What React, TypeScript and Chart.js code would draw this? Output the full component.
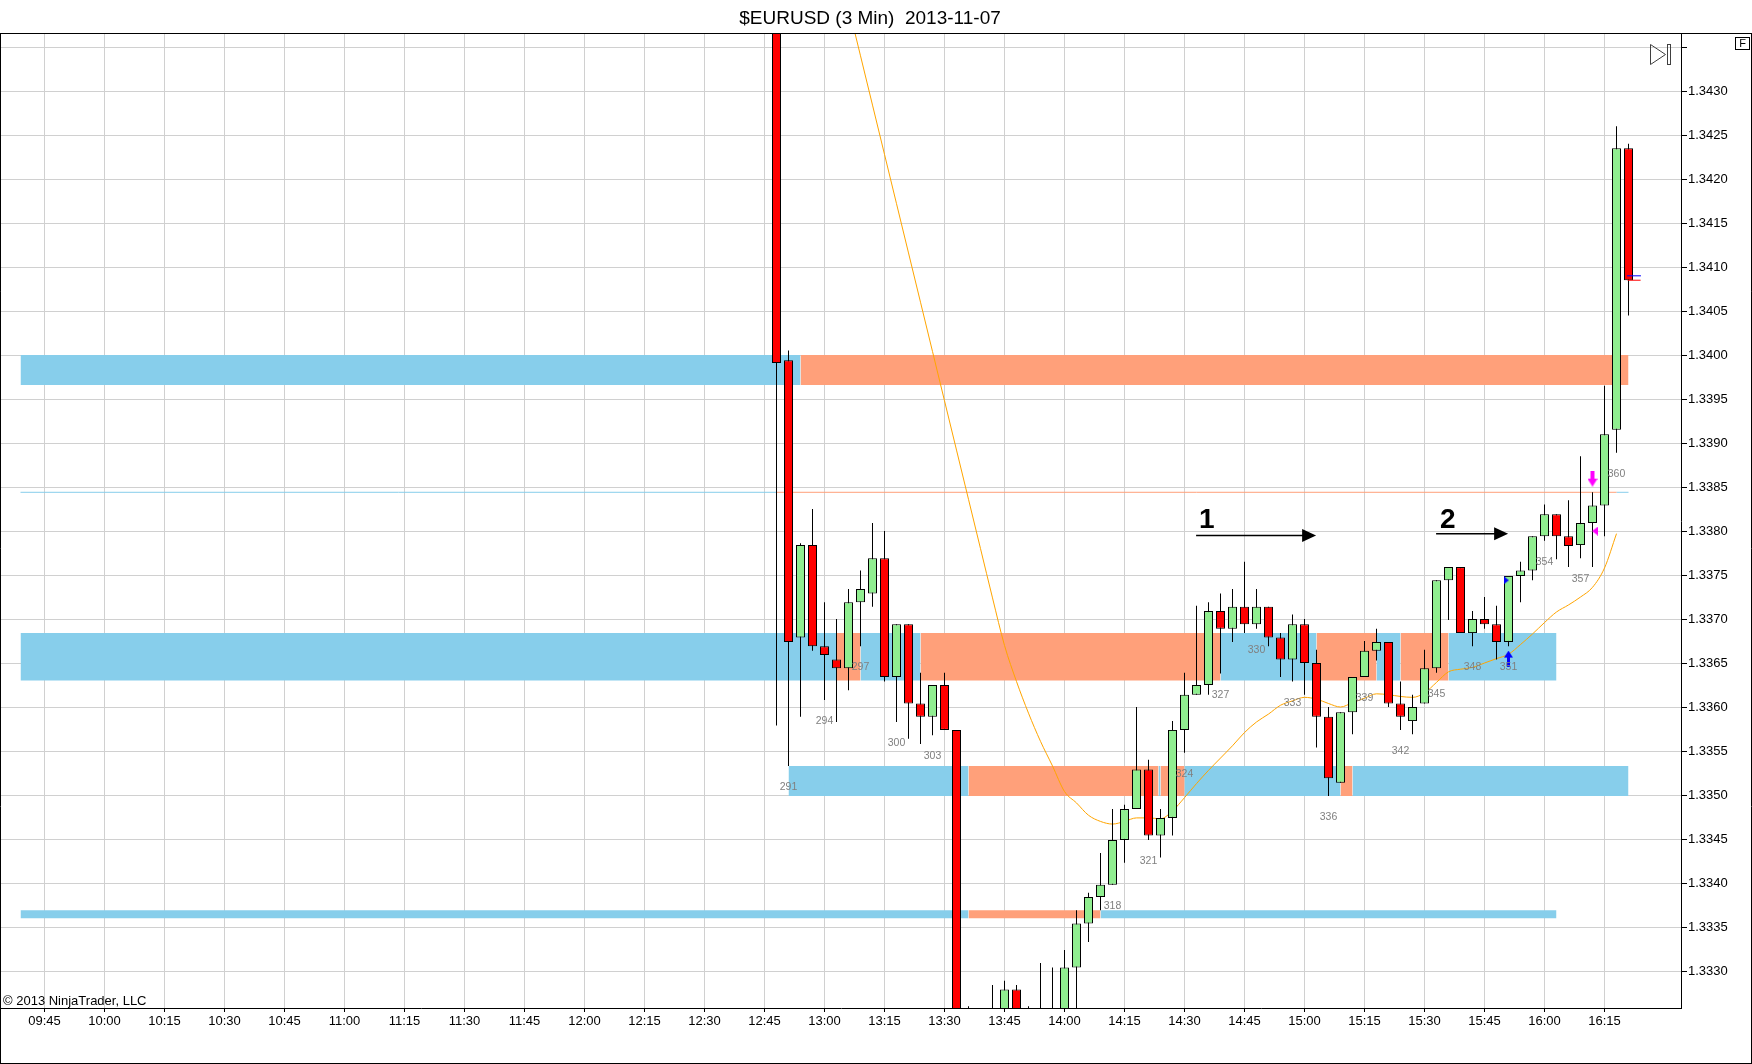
import React, { useEffect, useRef } from 'react';
import { Chart, registerables } from 'chart.js';

Chart.register(...registerables);

const FONT = '"Liberation Sans", Arial, sans-serif';
Chart.defaults.font.family = FONT;

const TITLE = '$EURUSD (3 Min)  2013-11-07';
const COPYRIGHT = '\u00A9 2013 NinjaTrader, LLC';

// ---------- 3-minute bars ----------
const BAR_TIMES = [
  '12:48','12:51','12:54','12:57',
  '13:00','13:03','13:06','13:09','13:12','13:15','13:18','13:21','13:24','13:27',
  '13:30','13:33','13:36','13:39','13:42','13:45','13:48','13:51','13:54','13:57',
  '14:00','14:03','14:06','14:09','14:12','14:15','14:18','14:21','14:24','14:27',
  '14:30','14:33','14:36','14:39','14:42','14:45','14:48','14:51','14:54','14:57',
  '15:00','15:03','15:06','15:09','15:12','15:15','15:18','15:21','15:24','15:27',
  '15:30','15:33','15:36','15:39','15:42','15:45','15:48','15:51','15:54','15:57',
  '16:00','16:03','16:06','16:09','16:12','16:15','16:18','16:21',
];

const OPEN = [
  1.34500,1.33994,1.33679,1.33784,1.33669,1.33654,1.33644,1.33719,1.33729,1.33769,
  1.33634,1.33694,1.33604,1.33589,1.33625,1.33574,1.33170,1.33220,1.33180,1.33240,
  1.33279,1.33220,1.33210,1.33240,1.33230,1.33304,1.33354,1.33384,1.33398,1.33449,
  1.33484,1.33529,1.33454,1.33474,1.33574,1.33614,1.33625,1.33709,1.33689,1.33714,
  1.33694,1.33714,1.33679,1.33654,1.33694,1.33650,1.33589,1.33514,1.33594,1.33634,
  1.33664,1.33674,1.33604,1.33584,1.33604,1.33644,1.33744,1.33759,1.33684,1.33700,
  1.33694,1.33674,1.33749,1.33755,1.33794,1.33819,1.33794,1.33784,1.33809,1.33829,
  1.33915,1.34235,
];

const HIGH = [
  1.34520,1.34005,1.33786,1.33825,1.33719,1.33700,1.33734,1.33755,1.33809,1.33800,
  1.33694,1.33694,1.33639,1.33625,1.33639,1.33574,1.33260,1.33250,1.33284,1.33289,
  1.33284,1.33260,1.33309,1.33304,1.33324,1.33369,1.33389,1.33434,1.33484,1.33489,
  1.33600,1.33540,1.33484,1.33584,1.33639,1.33715,1.33719,1.33729,1.33734,1.33765,
  1.33734,1.33714,1.33684,1.33705,1.33700,1.33665,1.33600,1.33594,1.33634,1.33675,
  1.33689,1.33674,1.33629,1.33614,1.33665,1.33744,1.33759,1.33759,1.33709,1.33725,
  1.33715,1.33749,1.33765,1.33794,1.33830,1.33819,1.33835,1.33885,1.33844,1.33965,
  1.34260,1.34240,
];

const LOW = [
  1.33579,1.33533,1.33589,1.33664,1.33608,1.33583,1.33619,1.33669,1.33714,1.33629,
  1.33583,1.33564,1.33558,1.33568,1.33574,1.33150,1.33120,1.33160,1.33170,1.33210,
  1.33200,1.33180,1.33190,1.33200,1.33210,1.33250,1.33333,1.33369,1.33398,1.33423,
  1.33484,1.33449,1.33429,1.33454,1.33548,1.33614,1.33614,1.33638,1.33674,1.33684,
  1.33689,1.33669,1.33634,1.33629,1.33614,1.33554,1.33499,1.33514,1.33569,1.33634,
  1.33653,1.33600,1.33574,1.33569,1.33604,1.33639,1.33699,1.33684,1.33669,1.33689,
  1.33654,1.33669,1.33719,1.33744,1.33789,1.33768,1.33759,1.33769,1.33759,1.33794,
  1.33889,1.34045,
];

const CLOSE = [
  1.33991,1.33674,1.33784,1.33669,1.33659,1.33644,1.33719,1.33734,1.33769,1.33634,
  1.33694,1.33604,1.33589,1.33625,1.33574,1.33170,1.33220,1.33180,1.33240,1.33279,
  1.33220,1.33210,1.33240,1.33230,1.33304,1.33354,1.33384,1.33398,1.33449,1.33484,
  1.33529,1.33454,1.33474,1.33574,1.33614,1.33625,1.33709,1.33689,1.33714,1.33694,
  1.33714,1.33679,1.33654,1.33694,1.33650,1.33589,1.33519,1.33594,1.33634,1.33664,
  1.33674,1.33604,1.33589,1.33600,1.33644,1.33744,1.33759,1.33684,1.33700,1.33694,
  1.33674,1.33749,1.33755,1.33794,1.33819,1.33794,1.33783,1.33809,1.33829,1.33910,
  1.34235,1.34085,
];

// moving average (orange line)
const SMA = [
  1.34732,1.34676,1.34620,1.34564,1.34508,1.34452,1.34396,1.34340,1.34284,1.34228,
  1.34172,1.34116,1.34060,1.34004,1.33948,1.33892,1.33836,1.33780,1.33724,1.33670,
  1.33629,1.33593,1.33561,1.33533,1.33504,1.33491,1.33477,1.33470,1.33467,1.33470,
  1.33474,1.33474,1.33473,1.33482,1.33497,1.33513,1.33528,1.33542,1.33556,1.33571,
  1.33583,1.33592,1.33602,1.33607,1.33611,1.33609,1.33604,1.33600,1.33605,1.33610,
  1.33615,1.33614,1.33612,1.33611,1.33616,1.33628,1.33640,1.33643,1.33645,1.33650,
  1.33655,1.33660,1.33671,1.33683,1.33696,1.33708,1.33716,1.33725,1.33736,1.33758,
  1.33797,null,
];

// bar numbers printed under every third bar
const BAR_NUMBER_TIMES = [
  '12:51','13:00','13:09','13:18','13:27','13:36','13:45','13:54','14:03','14:12',
  '14:21','14:30','14:39','14:48','14:57','15:06','15:15','15:24','15:33','15:42',
  '15:51','16:00','16:09','16:18',
];
const BAR_NUMBER_LABELS = [
  '291','294','297','300','303','306','309','312','315','318',
  '321','324','327','330','333','336','339','342','345','348',
  '351','354','357','360',
];

// ---------- axes ----------
const TIME_TICK_LABELS = [
  '09:45','10:00','10:15','10:30','10:45','11:00','11:15','11:30','11:45','12:00',
  '12:15','12:30','12:45','13:00','13:15','13:30','13:45','14:00','14:15','14:30',
  '14:45','15:00','15:15','15:30','15:45','16:00','16:15',
];
const PRICE_TICKS = [
  1.3330,1.3335,1.3340,1.3345,1.3350,1.3355,1.3360,1.3365,1.3370,1.3375,
  1.3380,1.3385,1.3390,1.3395,1.3400,1.3405,1.3410,1.3415,1.3420,1.3425,
  1.3430,1.3435,
];
const PRICE_TICK_LABELS = [
  '1.3330','1.3335','1.3340','1.3345','1.3350','1.3355','1.3360','1.3365','1.3370','1.3375',
  '1.3380','1.3385','1.3390','1.3395','1.3400','1.3405','1.3410','1.3415','1.3420','1.3425',
  '1.3430','',
];

// ---------- zones ----------
const ZONE_HIGH = [1.34000, 1.33684, 1.33533, 1.33369];
const ZONE_LOW = [1.33966, 1.33630, 1.33499, 1.33360];
// [zone, from, to, state]  B = blue (support), R = salmon (resistance)
const ZONE_SEGMENTS: [number, string, string, string][] = [
  [0, '09:39', '12:54', 'B'], [0, '12:54', '16:21', 'R'],
  [1, '09:39', '13:03', 'B'], [1, '13:03', '13:09', 'R'], [1, '13:09', '13:24', 'B'],
  [1, '13:24', '14:39', 'R'], [1, '14:39', '15:03', 'B'], [1, '15:03', '15:18', 'R'],
  [1, '15:18', '15:24', 'B'], [1, '15:24', '15:36', 'R'], [1, '15:36', '16:03', 'B'],
  [2, '12:51', '13:36', 'B'], [2, '13:36', '14:23:30', 'R'], [2, '14:23:30', '14:24', 'B'],
  [2, '14:24', '14:30', 'R'], [2, '14:30', '15:09', 'B'], [2, '15:09', '15:12', 'R'],
  [2, '15:12', '16:21', 'B'],
  [3, '09:39', '13:36', 'B'], [3, '13:36', '14:09', 'R'], [3, '14:09', '16:03', 'B'],
];
const LEVEL_PRICE = 1.33844;
const LEVEL_SEGMENTS: [string, string, string][] = [
  ['09:39', '12:48', 'B'], ['12:48', '16:18', 'R'], ['16:18', '16:21', 'B'],
];

// ---------- drawn annotations ----------
const NOTE_TEXT = ['1', '2'];
const NOTE_TIME = ['14:35:36', '15:35:48'];
const NOTE_PRICE = [1.33803, 1.33803];
const ARROW_FROM = ['14:32:54', '15:32:54'];
const ARROW_TO = ['15:02:54', '15:50:54'];
const ARROW_PRICE = [1.33795, 1.33797];

// ---------- signal markers ----------
const UP_ARROW_TIME = ['15:51'];
const UP_ARROW_PRICE = [1.33655];
const DOWN_ARROW_TIME = ['16:12'];
const DOWN_ARROW_PRICE = [1.338595];
const RIGHT_TRI_TIME = ['15:50:27'];
const RIGHT_TRI_PRICE = [1.33744];
const LEFT_TRI_TIME = ['16:12:38'];
const LEFT_TRI_PRICE = [1.33800];
const LAST_BLUE_TIME = ['16:22:22'];
const LAST_BLUE_PRICE = [1.34090];
const LAST_RED_TIME = ['16:22:24'];
const LAST_RED_PRICE = [1.34085];

// visible window
const X_MIN = 574.125;
const X_MAX = 994.125;
const Y_MIN = 1.3325798;
const Y_MAX = 1.343648;

const C_BLUE = '#87CEEB';
const C_SALMON = '#FFA07A';
const C_UP = '#90EE90';
const C_DOWN = '#FF0000';
const C_MA = '#FFA500';
const C_GRID = '#D0D0D0';

function toMin(s: string): number {
  const parts = s.split(':').map(Number);
  return parts[0] * 60 + parts[1] + (parts[2] || 0) / 60;
}

function makeCanvas(w: number, h: number, color: string, pts: number[][]): HTMLCanvasElement {
  const c = document.createElement('canvas');
  c.width = w;
  c.height = h;
  const g = c.getContext('2d')!;
  g.fillStyle = color;
  g.beginPath();
  pts.forEach((p, i) => (i === 0 ? g.moveTo(p[0], p[1]) : g.lineTo(p[0], p[1])));
  g.closePath();
  g.fill();
  return c;
}

const decorPlugin = {
  id: 'decor',
  beforeDraw(chart: any) {
    const { ctx, width, height } = chart;
    ctx.save();
    ctx.fillStyle = '#FFFFFF';
    ctx.fillRect(0, 0, width, height);
    ctx.restore();
  },
  afterDatasetsDraw(chart: any) {
    const { ctx, chartArea: a } = chart;
    const xs = chart.scales.x;
    const ys = chart.scales.y;
    ctx.save();
    ctx.beginPath();
    ctx.rect(a.left, a.top, a.right - a.left, a.bottom - a.top);
    ctx.clip();

    // bar numbers
    ctx.font = '10.5px ' + FONT;
    ctx.fillStyle = '#808080';
    ctx.textAlign = 'center';
    ctx.textBaseline = 'top';
    BAR_NUMBER_TIMES.forEach((t, k) => {
      const i = BAR_TIMES.indexOf(t);
      const px = xs.getPixelForValue(toMin(t));
      const py = ys.getPixelForValue(LOW[i]) + 16;
      if (py + 9 < a.bottom) ctx.fillText(BAR_NUMBER_LABELS[k], px, py);
    });

    // arrows
    ctx.strokeStyle = '#000';
    ctx.fillStyle = '#000';
    ctx.lineWidth = 1.5;
    ARROW_FROM.forEach((f, k) => {
      const x0 = xs.getPixelForValue(toMin(f));
      const x1 = xs.getPixelForValue(toMin(ARROW_TO[k]));
      const y = ys.getPixelForValue(ARROW_PRICE[k]);
      ctx.beginPath();
      ctx.moveTo(x0, y);
      ctx.lineTo(x1 - 12, y);
      ctx.stroke();
      ctx.beginPath();
      ctx.moveTo(x1, y);
      ctx.lineTo(x1 - 14, y - 6.5);
      ctx.lineTo(x1 - 14, y + 6.5);
      ctx.closePath();
      ctx.fill();
    });

    // labels 1 / 2
    ctx.font = 'bold 28px ' + FONT;
    ctx.textBaseline = 'alphabetic';
    ctx.textAlign = 'center';
    NOTE_TEXT.forEach((txt, k) => {
      ctx.fillText(txt, xs.getPixelForValue(toMin(NOTE_TIME[k])), ys.getPixelForValue(NOTE_PRICE[k]));
    });
    ctx.restore();
  },
  afterDraw(chart: any) {
    const { ctx, width, height } = chart;
    ctx.save();
    // title
    ctx.fillStyle = '#000';
    ctx.font = '19px ' + FONT;
    ctx.textAlign = 'center';
    ctx.textBaseline = 'alphabetic';
    ctx.fillText(TITLE, 870, 24);
    // copyright
    ctx.font = '13px ' + FONT;
    ctx.textAlign = 'left';
    ctx.fillText(COPYRIGHT, 3, 1005);
    // frame
    ctx.strokeStyle = '#000';
    ctx.lineWidth = 1;
    ctx.beginPath();
    ctx.moveTo(0, 33.5);
    ctx.lineTo(width, 33.5);
    ctx.moveTo(0.5, 33.5);
    ctx.lineTo(0.5, height);
    ctx.moveTo(0, height - 0.5);
    ctx.lineTo(width, height - 0.5);
    ctx.moveTo(width - 0.5, 33.5);
    ctx.lineTo(width - 0.5, height);
    ctx.stroke();
    // "go to end" icon
    ctx.strokeStyle = '#404040';
    ctx.beginPath();
    ctx.moveTo(1650.5, 44.5);
    ctx.lineTo(1665.5, 54.5);
    ctx.lineTo(1650.5, 64.5);
    ctx.closePath();
    ctx.stroke();
    ctx.strokeRect(1667.5, 44.5, 3, 20);
    // F box
    ctx.strokeStyle = '#000';
    ctx.strokeRect(1735.5, 37.5, 14, 12);
    ctx.font = '11px ' + FONT;
    ctx.textAlign = 'center';
    ctx.textBaseline = 'middle';
    ctx.fillText('F', 1742.5, 44);
    ctx.restore();
  },
};

export default function App() {
  const ref = useRef<HTMLCanvasElement>(null);

  useEffect(() => {
    document.body.style.margin = '0';
    document.body.style.overflow = 'hidden';
    const canvas = ref.current!;

    const upArrow = makeCanvas(9, 16, '#0000FF', [[4.5, 0], [9, 7], [6, 7], [6, 16], [3, 16], [3, 7], [0, 7]]);
    const downArrow = makeCanvas(10, 16, '#FF00FF', [[3, 0], [7, 0], [7, 8], [10, 8], [5, 16], [0, 8], [3, 8]]);
    const rightTri = makeCanvas(5, 8, '#0000FF', [[0, 0], [5, 4], [0, 8]]);
    const leftTri = makeCanvas(6, 9, '#FF00FF', [[6, 0], [0, 4.5], [6, 9]]);

    const datasets: any[] = [];

    ZONE_SEGMENTS.forEach(([z, from, to, st]) => {
      datasets.push({
        type: 'line',
        data: [{ x: toMin(from), y: ZONE_HIGH[z] }, { x: toMin(to), y: ZONE_HIGH[z] }],
        fill: { value: ZONE_LOW[z] },
        backgroundColor: st === 'B' ? C_BLUE : C_SALMON,
        borderColor: 'rgba(0,0,0,0)',
        borderWidth: 0,
        pointRadius: 0,
        pointHoverRadius: 0,
        order: 50,
      });
    });

    LEVEL_SEGMENTS.forEach(([from, to, st]) => {
      datasets.push({
        type: 'line',
        data: [{ x: toMin(from), y: LEVEL_PRICE }, { x: toMin(to), y: LEVEL_PRICE }],
        borderColor: st === 'B' ? C_BLUE : C_SALMON,
        borderWidth: 1,
        pointRadius: 0,
        pointHoverRadius: 0,
        fill: false,
        order: 40,
      });
    });

    datasets.push({
      type: 'line',
      data: BAR_TIMES.map((t, i) => ({ x: toMin(t), y: SMA[i] })),
      borderColor: C_MA,
      borderWidth: 1,
      pointRadius: 0,
      pointHoverRadius: 0,
      fill: false,
      cubicInterpolationMode: 'monotone',
      order: 30,
    });

    datasets.push({
      type: 'bar',
      data: BAR_TIMES.map((t, i) => ({ x: toMin(t), y: [LOW[i], HIGH[i]] })),
      backgroundColor: '#000000',
      borderWidth: 0,
      barThickness: 1,
      grouped: false,
      inflateAmount: 0,
      order: 20,
    });

    datasets.push({
      type: 'bar',
      data: BAR_TIMES.map((t, i) => ({ x: toMin(t), y: [OPEN[i], CLOSE[i]] })),
      backgroundColor: BAR_TIMES.map((_, i) => (CLOSE[i] >= OPEN[i] ? C_UP : C_DOWN)),
      borderColor: '#000000',
      borderWidth: 1,
      borderSkipped: false,
      barThickness: 9,
      grouped: false,
      inflateAmount: 0,
      order: 10,
    });

    const marker = (times: string[], prices: number[], style: any, extra: any = {}) => ({
      type: 'scatter',
      data: times.map((t, i) => ({ x: toMin(t), y: prices[i] })),
      pointStyle: style,
      pointRadius: 5,
      pointHoverRadius: 0,
      order: 3,
      ...extra,
    });
    datasets.push(marker(UP_ARROW_TIME, UP_ARROW_PRICE, upArrow));
    datasets.push(marker(DOWN_ARROW_TIME, DOWN_ARROW_PRICE, downArrow));
    datasets.push(marker(RIGHT_TRI_TIME, RIGHT_TRI_PRICE, rightTri));
    datasets.push(marker(LEFT_TRI_TIME, LEFT_TRI_PRICE, leftTri));
    datasets.push(marker(LAST_BLUE_TIME, LAST_BLUE_PRICE, 'line', { pointRadius: 7, pointBorderColor: '#0000FF', pointBorderWidth: 1, clip: false }));
    datasets.push(marker(LAST_RED_TIME, LAST_RED_PRICE, 'line', { pointRadius: 6.5, pointBorderColor: '#FF0000', pointBorderWidth: 1, clip: false }));

    const chart = new Chart(canvas, {
      type: 'bar',
      data: { datasets },
      options: {
        responsive: false,
        animation: false,
        events: [],
        layout: { autoPadding: false, padding: { top: 34, left: 1, right: 0, bottom: 0 } },
        plugins: {
          legend: { display: false },
          tooltip: { enabled: false },
          title: { display: false },
        },
        scales: {
          x: {
            type: 'linear',
            min: X_MIN,
            max: X_MAX,
            offset: false,
            afterBuildTicks: (s: any) => {
              s.ticks = TIME_TICK_LABELS.map((l) => ({ value: toMin(l) }));
            },
            afterFit: (s: any) => {
              s.height = 56;
              s.paddingLeft = 0;
              s.paddingRight = 0;
            },
            ticks: {
              autoSkip: false,
              maxRotation: 0,
              minRotation: 0,
              padding: 2,
              color: '#000',
              font: { size: 13, family: FONT },
              callback: (_v: any, i: number) => TIME_TICK_LABELS[i],
            },
            grid: { color: C_GRID, tickColor: '#000', tickLength: 4, offset: false },
            border: { display: true, color: '#000' },
          },
          y: {
            type: 'linear',
            position: 'right',
            min: Y_MIN,
            max: Y_MAX,
            beginAtZero: false,
            afterBuildTicks: (s: any) => {
              s.ticks = PRICE_TICKS.map((v) => ({ value: v }));
            },
            afterFit: (s: any) => {
              s.width = 71;
              s.paddingTop = 0;
              s.paddingBottom = 0;
            },
            ticks: {
              autoSkip: false,
              padding: 1,
              color: '#000',
              font: { size: 13, family: FONT },
              callback: (_v: any, i: number) => PRICE_TICK_LABELS[i],
            },
            grid: { color: C_GRID, tickColor: '#000', tickLength: 6 },
            border: { display: true, color: '#000' },
          },
        },
      } as any,
      plugins: [decorPlugin],
    } as any);

    return () => chart.destroy();
  }, []);

  return <canvas ref={ref} width={1752} height={1064} style={{ display: 'block' }} />;
}
